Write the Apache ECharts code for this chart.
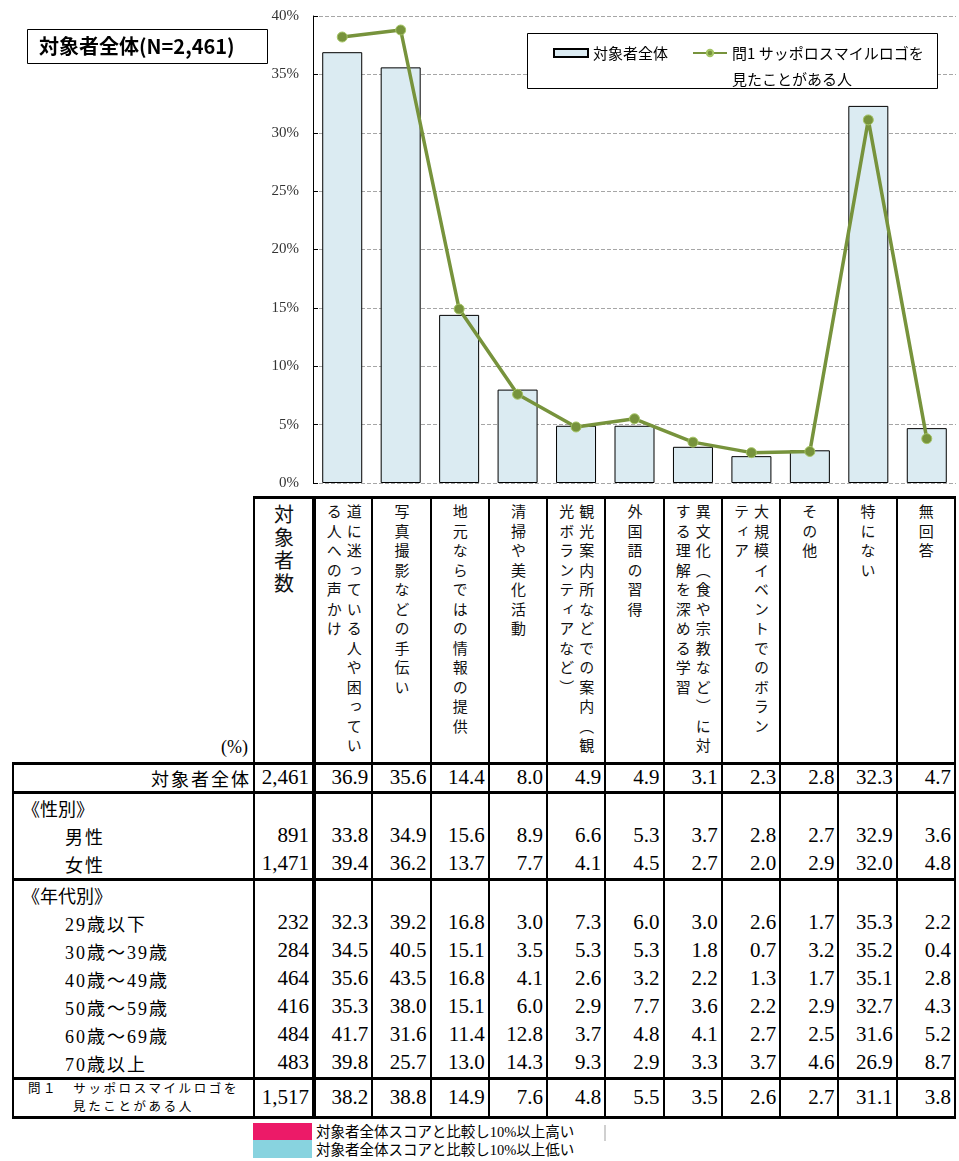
<!DOCTYPE html>
<html lang="ja">
<head>
<meta charset="utf-8">
<title>対象者全体(N=2,461)</title>
<script src="https://cdn.jsdelivr.net/npm/echarts@6/dist/echarts.min.js"></script>
<style>
html, body { margin: 0; padding: 0; background: #fff; }
body { position: relative; width: 959px; height: 1161px; overflow: hidden; color: #000;
  font-family: "Liberation Serif", "Noto Sans CJK JP", serif; }
#chart { position: absolute; left: 0; top: 0; width: 959px; height: 495px; }
#tbl { position: absolute; left: 12px; top: 496px; width: 944px; border-collapse: collapse; table-layout: fixed; }
#tbl td { border-left: 2px solid #000; border-right: 2px solid #000; padding: 0; white-space: nowrap; }
#tbl tr.grp td { border-top: 3px solid #000; }
#tbl tr.last td { border-bottom: 3px solid #000; }
#tbl tr.head td { border-top: 3px solid #000; vertical-align: top; text-align: center; height: 256px; }
#tbl tr.head td.pct { border-top: none; border-left: none; vertical-align: bottom; text-align: right;
  font-size: 18px; padding: 0 5px 4px 0; }
#tbl td.cnt { border-right: 4px solid #000; }
.v { display: inline-block; writing-mode: vertical-rl; white-space: pre; text-align: start;
  font-family: "Noto Sans CJK JP", sans-serif; font-size: 15px; letter-spacing: 4.5px; line-height: 20px;
  margin-top: 5px; color: #111; }
.v.big { font-size: 20px; letter-spacing: 3.3px; line-height: 24px; }
#tbl tr.row td { height: 28px; }
#tbl tr.row.first td { height: 26px; }
#tbl td.num { text-align: right; font-size: 21px; padding-right: 3px; }
#tbl td.lab { font-size: 18px; letter-spacing: 2px; padding-left: 51px; }
#tbl td.lab.sec { padding-left: 8px; letter-spacing: 0; }
#tbl td.lab.tot { text-align: right; padding: 0 2px 0 0; }
#tbl td.lab.q1 { padding: 0; text-align: center; font-size: 12.5px; letter-spacing: 2.6px; line-height: 18px; height: 36px; }
.sw { position: absolute; left: 253px; width: 59px; }
.note { position: absolute; left: 316px; font-size: 14.5px; line-height: 18px; }
</style>
</head>
<body>
<div id="chart"></div>
<table id="tbl"></table>
<div class="sw" style="top:1123px;height:17px;background:#ec1a68"></div>
<div class="sw" style="top:1140px;height:18px;background:#88d3df"></div>
<div class="note" style="top:1123px">対象者全体スコアと比較し10%以上高い</div>
<div class="note" style="top:1141px">対象者全体スコアと比較し10%以上低い</div>
<div style="position:absolute;left:604px;top:1125px;width:2px;height:16px;background:#d0d0d0"></div>
<script>
// 選択肢（表の見出しは改行位置を含む）
const categories = [
  '道に迷っている人や困ってい\nる人への声かけ',
  '写真撮影などの手伝い',
  '地元ならではの情報の提供',
  '清掃や美化活動',
  '観光案内所などでの案内（観\n光ボランティアなど）',
  '外国語の習得',
  '異文化（食や宗教など）に対\nする理解を深める学習',
  '大規模イベントでのボラン\nティア',
  'その他',
  '特にない',
  '無回答'
];
const yTicks = [0, 5, 10, 15, 20, 25, 30, 35, 40];

// 各属性のスコア (%)
const totalScores   = [36.9, 35.6, 14.4, 8.0, 4.9, 4.9, 3.1, 2.3, 2.8, 32.3, 4.7];
const maleScores    = [33.8, 34.9, 15.6, 8.9, 6.6, 5.3, 3.7, 2.8, 2.7, 32.9, 3.6];
const femaleScores  = [39.4, 36.2, 13.7, 7.7, 4.1, 4.5, 2.7, 2.0, 2.9, 32.0, 4.8];
const age20Scores   = [32.3, 39.2, 16.8, 3.0, 7.3, 6.0, 3.0, 2.6, 1.7, 35.3, 2.2];
const age30Scores   = [34.5, 40.5, 15.1, 3.5, 5.3, 5.3, 1.8, 0.7, 3.2, 35.2, 0.4];
const age40Scores   = [35.6, 43.5, 16.8, 4.1, 2.6, 3.2, 2.2, 1.3, 1.7, 35.1, 2.8];
const age50Scores   = [35.3, 38.0, 15.1, 6.0, 2.9, 7.7, 3.6, 2.2, 2.9, 32.7, 4.3];
const age60Scores   = [41.7, 31.6, 11.4, 12.8, 3.7, 4.8, 4.1, 2.7, 2.5, 31.6, 5.2];
const age70Scores   = [39.8, 25.7, 13.0, 14.3, 9.3, 2.9, 3.3, 3.7, 4.6, 26.9, 8.7];
const logoSeenScores = [38.2, 38.8, 14.9, 7.6, 4.8, 5.5, 3.5, 2.6, 2.7, 31.1, 3.8];

// 表の行ラベルと対象者数
const rowLabels = ['対象者全体', '《性別》', '男性', '女性', '《年代別》', '29歳以下', '30歳～39歳',
  '40歳～49歳', '50歳～59歳', '60歳～69歳', '70歳以上', '問１　サッポロスマイルロゴを\n見たことがある人'];
const rowCounts = [2461, null, 891, 1471, null, 232, 284, 464, 416, 484, 483, 1517];
const rowScores = [totalScores, null, maleScores, femaleScores, null, age20Scores, age30Scores,
  age40Scores, age50Scores, age60Scores, age70Scores, logoSeenScores];

const barName = '対象者全体';
const lineName = '問1 サッポロスマイルロゴを\n見たことがある人';

// 表の組み立て
const buildTable = () => {
  const tbl = document.getElementById('tbl');
  let html = '<colgroup><col style="width:241px"><col style="width:60px">';
  categories.forEach(() => { html += '<col>'; });
  html += '</colgroup>';
  html += '<tr class="head"><td class="pct">(%)</td><td class="cnt"><div class="v big">対象者数</div></td>';
  categories.forEach(c => { html += '<td><div class="v">' + c + '</div></td>'; });
  html += '</tr>';
  const lastIdx = rowLabels.length - 1;
  rowLabels.forEach((label, i) => {
    const isSec = rowScores[i] === null;
    const cls = ['row'];
    if (i === 0) cls.push('first');
    if (i === 0 || isSec || i === lastIdx) cls.push('grp');
    if (i === lastIdx) cls.push('last');
    let labCls = 'lab';
    if (isSec) labCls += ' sec';
    if (i === 0) labCls += ' tot';
    if (i === lastIdx) labCls += ' q1';
    html += '<tr class="' + cls.join(' ') + '"><td class="' + labCls + '">' + label.replace('\n', '<br>') + '</td>';
    html += '<td class="num cnt">' + (rowCounts[i] === null ? '' : rowCounts[i].toLocaleString('en-US')) + '</td>';
    categories.forEach((c, j) => {
      html += '<td class="num">' + (isSec ? '' : rowScores[i][j].toFixed(1)) + '</td>';
    });
    html += '</tr>';
  });
  tbl.innerHTML = html;
};
buildTable();

const chart = echarts.init(document.getElementById('chart'));
chart.setOption({
  animation: false,
  title: {
    text: '対象者全体(N=2,461)',
    left: 39,
    top: 36,
    padding: 0,
    textStyle: { fontFamily: 'Noto Sans CJK JP', fontSize: 20, fontWeight: 'bold', color: '#000' }
  },
  graphic: [
    { type: 'rect', z: 1, shape: { x: 27.5, y: 29.5, width: 240, height: 34 },
      style: { fill: '#fff', stroke: '#000', lineWidth: 1 } },
    { type: 'rect', z: 1, shape: { x: 527.5, y: 33.5, width: 410, height: 55 },
      style: { fill: '#fff', stroke: '#000', lineWidth: 1 } }
  ],
  legend: {
    left: 553,
    top: 14,
    padding: 0,
    itemGap: 24,
    itemWidth: 34,
    itemHeight: 8,
    selectedMode: false,
    // 2行目の凡例文字を下に下げるため先頭に空行を入れる
    formatter: name => (name === lineName ? '\n' + name : name),
    textStyle: { fontFamily: 'Noto Sans CJK JP', fontSize: 15, color: '#000', lineHeight: 26 },
    data: [
      { name: barName, icon: 'rect' },
      { name: lineName }
    ]
  },
  grid: { left: 313, top: 16, width: 643, height: 467 },
  xAxis: {
    type: 'category',
    data: categories.map(c => c.replace('\n', '')),
    axisLine: { show: false },
    axisTick: { show: false },
    axisLabel: { show: false }
  },
  yAxis: {
    type: 'value',
    min: yTicks[0],
    max: yTicks[yTicks.length - 1],
    interval: 5,
    axisLine: { show: true, lineStyle: { color: '#000', width: 1 } },
    axisTick: { show: true, inside: true, length: 5, lineStyle: { color: '#000' } },
    axisLabel: {
      formatter: '{value}%',
      margin: 14,
      fontFamily: 'Liberation Serif',
      fontSize: 15,
      color: '#333'
    },
    splitLine: { show: true, lineStyle: { type: [4, 2], color: '#a6a6a6', width: 1 } }
  },
  series: [
    {
      name: barName,
      type: 'bar',
      data: totalScores,
      barWidth: 40,
      itemStyle: { color: '#dbebf2', borderColor: '#000', borderWidth: 1 }
    },
    {
      name: lineName,
      type: 'line',
      data: logoSeenScores,
      symbol: 'circle',
      symbolSize: 10,
      lineStyle: { color: '#77933c', width: 3.5 },
      itemStyle: { color: '#77933c', borderColor: '#a4c464', borderWidth: 1 },
      z: 3
    }
  ]
});
</script>
</body>
</html>
